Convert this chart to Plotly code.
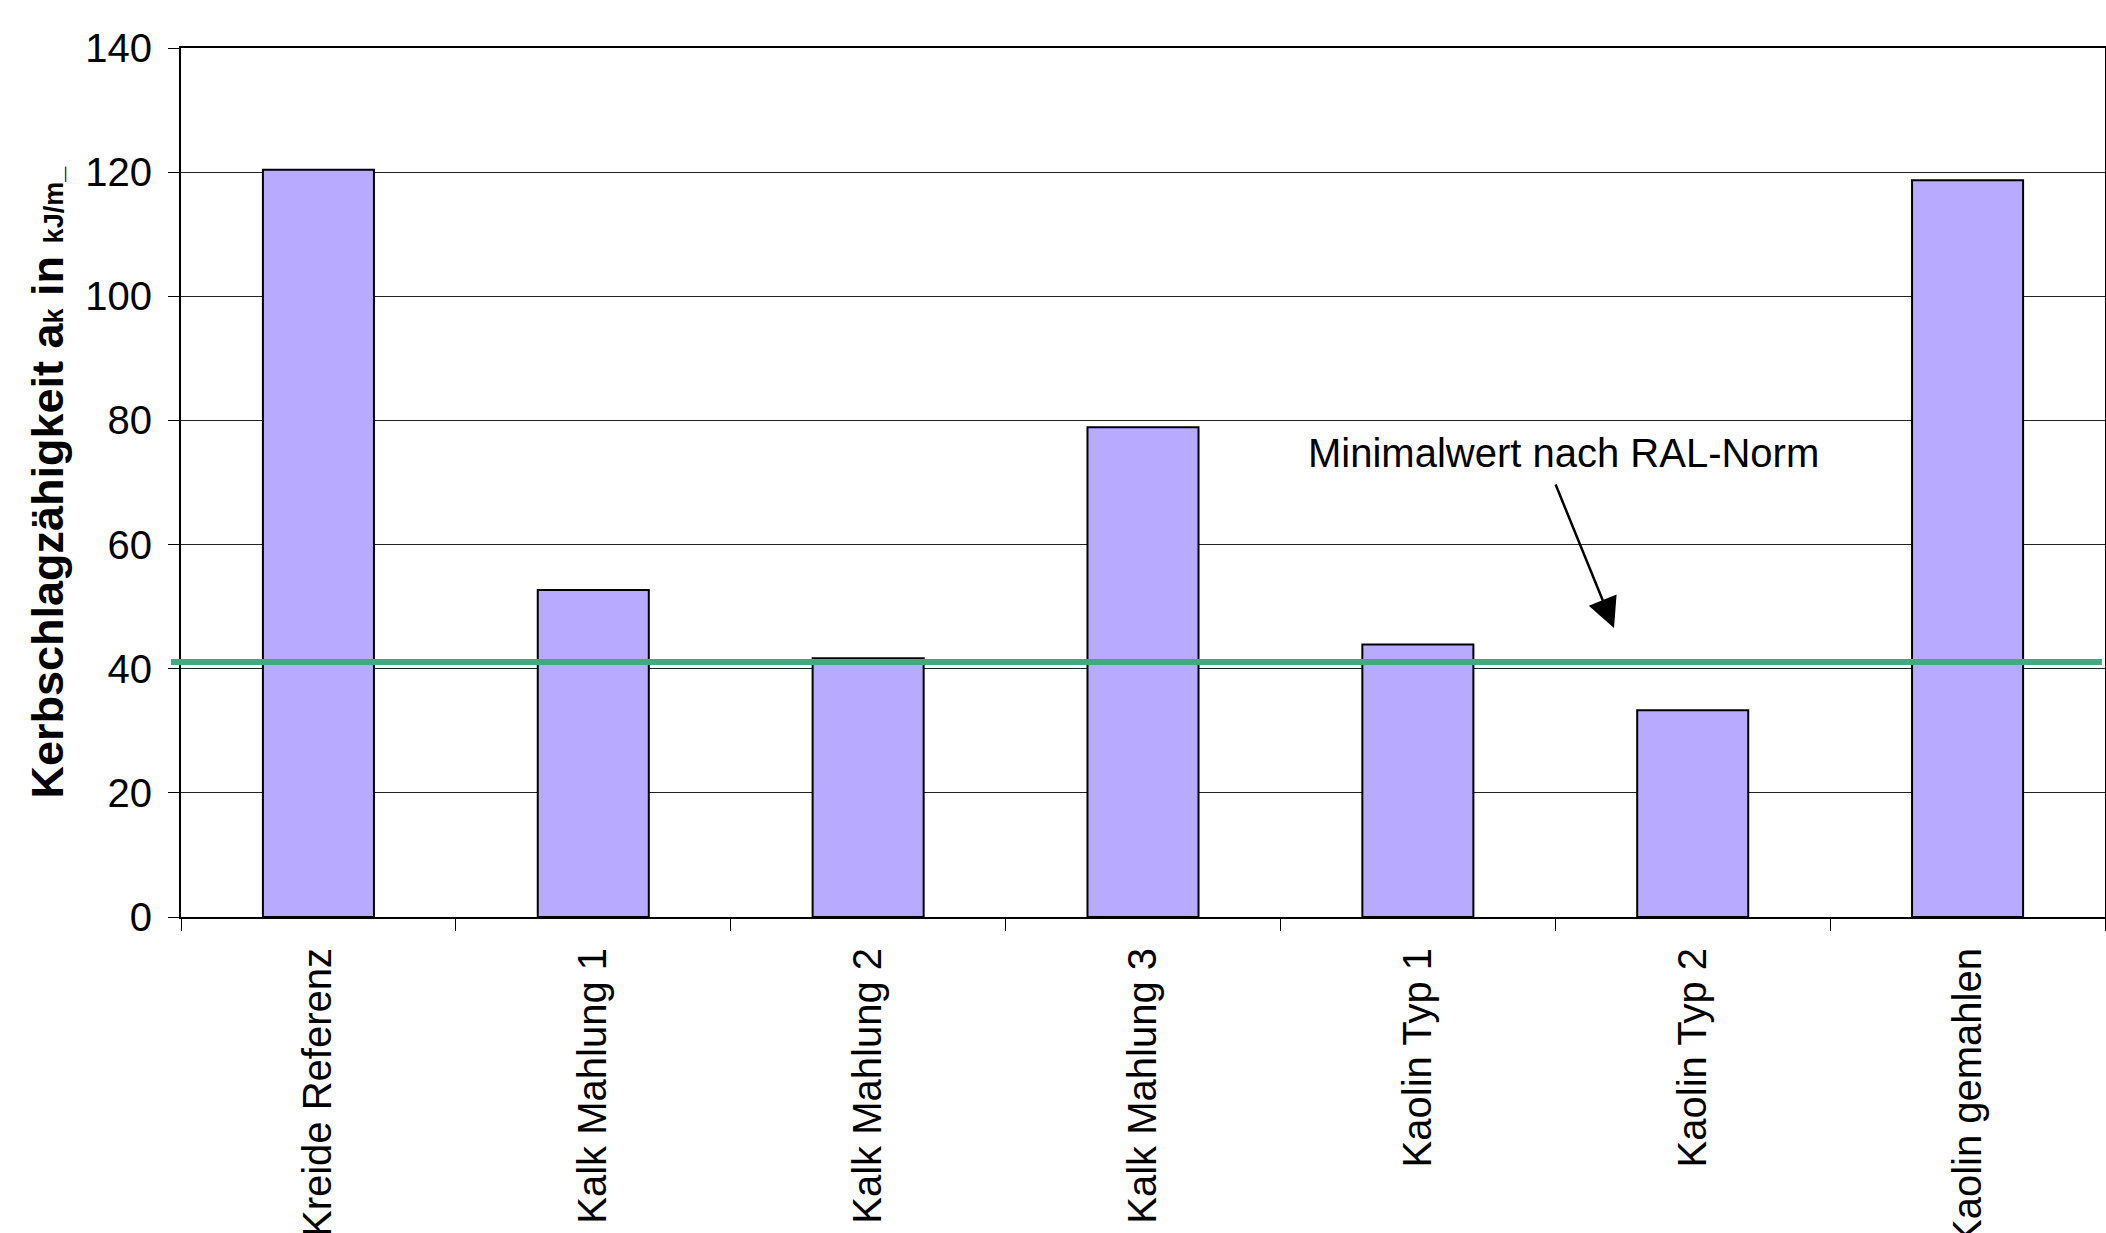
import plotly.graph_objects as go

# Kerbschlagzähigkeit je Füllstoffvariante
categories = ["Kreide Referenz", "Kalk Mahlung 1", "Kalk Mahlung 2", "Kalk Mahlung 3",
              "Kaolin Typ 1", "Kaolin Typ 2", "Kaolin gemahlen"]
values = [120.4, 52.7, 41.7, 78.9, 43.9, 33.3, 118.7]

# Mindestwert nach RAL-Norm
ral_min = 41.1

y_ticks = [0, 20, 40, 60, 80, 100, 120, 140]

FONT = "Liberation Sans, Arial, sans-serif"
BAR_COLOR = "#B7AAFF"
LINE_GREEN = "#43A97E"

fig = go.Figure()
fig.add_trace(go.Bar(
    x=categories,
    y=values,
    marker=dict(color=BAR_COLOR, line=dict(color="#000000", width=2)),
    showlegend=False,
    hoverinfo="x+y",
))

# Horizontale Linie für den Minimalwert
fig.add_shape(
    type="line", xref="paper", yref="y",
    x0=-0.0052, x1=0.9984, y0=ral_min, y1=ral_min,
    line=dict(color=LINE_GREEN, width=6),
    layer="above",
)

fig.update_layout(
    width=2106, height=1233,
    margin=dict(l=181, r=1, t=48, b=316),
    paper_bgcolor="white", plot_bgcolor="white",
    bargap=0.596,
    font=dict(family=FONT, size=40, color="#000000"),
    xaxis=dict(
        type="category",
        range=[-0.5, len(categories) - 0.5],
        tickangle=-90,
        tickson="boundaries",
        ticks="outside", ticklen=12, tickwidth=1, tickcolor="#000000",
        showline=True, linecolor="#000000", linewidth=2, mirror=True,
        showgrid=False,
        tickfont=dict(family=FONT, size=40, color="#000000"),
        ticklabelstandoff=13,
        automargin=False,
    ),
    yaxis=dict(
        range=[0, 140],
        tickvals=y_ticks,
        ticks="outside", ticklen=11, tickwidth=1, tickcolor="#000000",
        showline=True, linecolor="#000000", linewidth=2, mirror=True,
        showgrid=True, gridcolor="#222222", gridwidth=1,
        zeroline=False,
        tickfont=dict(family=FONT, size=40, color="#000000"),
        ticklabelstandoff=8,
        automargin=False,
    ),
    annotations=[
        # Achsentitel
        dict(
            text=("<b>Kerbschlagzähigkeit a<span style='font-size:27px'>k</span> in "
                  "<span style='font-size:27px'>kJ/m_</span></b>"),
            xref="paper", yref="paper", x=-0.0696, y=0.5,
            xanchor="center", yanchor="middle",
            textangle=-90, showarrow=False,
            font=dict(family=FONT, size=45, color="#000000"),
        ),
        # Beschriftung der Grenzlinie
        dict(
            text="Minimalwert nach RAL-Norm",
            xref="paper", yref="paper", x=0.7183, y=0.534,
            xanchor="center", yanchor="middle",
            showarrow=False,
            font=dict(family=FONT, size=40, color="#000000"),
        ),
        # Pfeil zur Grenzlinie
        dict(
            text="",
            xref="paper", yref="paper", x=(1614 - 181) / 1924, y=(917 - 628) / 869,
            ax=-59, ay=-145, axref="pixel", ayref="pixel",
            showarrow=True, arrowhead=2, arrowsize=2.4, arrowwidth=2.5,
            arrowcolor="#000000",
        ),
    ],
)

fig.write_html("out.html")
